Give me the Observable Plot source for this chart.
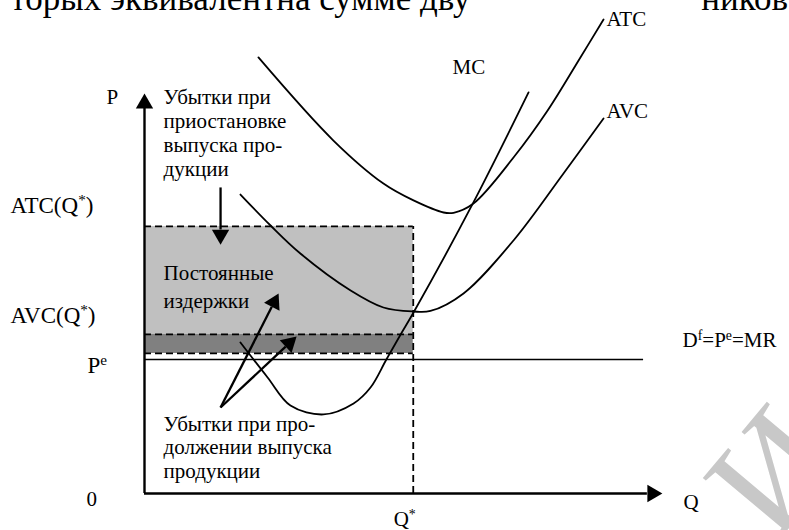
<!DOCTYPE html>
<html>
<head>
<meta charset="utf-8">
<script src="https://cdn.jsdelivr.net/npm/d3@7"></script>
<script src="https://cdn.jsdelivr.net/npm/@observablehq/plot@0.6"></script>
<style>
  html, body { margin: 0; padding: 0; background: #fff; }
  #chart svg { display: block; font-family: "Liberation Serif", "DejaVu Serif", serif; }
</style>
</head>
<body>
<div id="chart"></div>
<script>
// ---- Data (Q = quantity units, P = price units) ----
const qStar = 10;          // Q*
const pe = 10;             // market price P^e
const atcAtQ = 19.93;      // top of fixed-cost rectangle (ATC(Q*))
const avcAtQ = 11.87;      // AVC(Q*) level
const bandLow = 10.45;     // bottom of loss band
const demandEnd = 18.57;   // end of the D line

const atcCurve = [
  {q: 4.24, p: 32.54}, {q: 7.03, p: 26.34}, {q: 8.89, p: 23.13}, {q: 10.01, p: 21.87},
  {q: 11.13, p: 20.97}, {q: 11.5, p: 20.95}, {q: 12.24, p: 21.64}, {q: 13.73, p: 25.07},
  {q: 15.0, p: 28.58}, {q: 16.22, p: 32.54}, {q: 17.08, p: 35.37}
];
const avcCurve = [
  {q: 3.57, p: 22.31}, {q: 4.69, p: 20.0}, {q: 5.80, p: 17.91}, {q: 7.67, p: 15.15},
  {q: 8.89, p: 13.88}, {q: 10.01, p: 13.58}, {q: 10.64, p: 13.62}, {q: 11.87, p: 14.93},
  {q: 13.73, p: 18.88}, {q: 15.59, p: 23.88}, {q: 17.08, p: 27.99}
];
const mcCurve = [
  {q: 3.57, p: 11.27}, {q: 4.58, p: 8.66}, {q: 5.43, p: 6.57}, {q: 6.66, p: 5.90},
  {q: 7.78, p: 6.72}, {q: 8.41, p: 7.91}, {q: 9.0, p: 10.0}, {q: 9.53, p: 11.87},
  {q: 10.01, p: 13.51}, {q: 12.2, p: 21.57}, {q: 14.29, p: 29.93}
];

// annotation arrows: from -> tip
const arrows = [
  {q1: 2.83, p1: 22.84, q2: 2.83, p2: 18.51, len: 16},
  {q1: 2.83, p1: 6.42, q2: 4.99, p2: 14.93, len: 15},
  {q1: 2.83, p1: 6.42, q2: 5.66, p2: 11.72, len: 15}
];
const axisTips = {yTop: 29.85, xRight: 19.27};

// labels
const sideLabels = [
  {q: -4.99, p: 20.90, text: "ATC(Q^{*})"},
  {q: -4.99, p: 12.69, text: "AVC(Q^{*})"},
  {q: -2.12, p: 8.96, text: "P^{e}"}
];
const labels = [
  {q: -1.41, p: 29.03, text: "P"},
  {q: -2.16, p: -0.90, text: "0"},
  {q: 9.27, p: -2.46, text: "Q^{*}"},
  {q: 20.06, p: -1.19, text: "Q"},
  {q: 11.46, p: 31.34, text: "MC"},
  {q: 17.19, p: 34.85, text: "ATC"},
  {q: 17.19, p: 27.99, text: "AVC"},
  {q: 20.02, p: 10.90, text: "D^{f}=P^{e}=MR"}
];
const notes = [
  {q: 0.71, p: 23.73, lh: 1.14, text: "Убытки при\nприостановке\nвыпуска про-\nдукции"},
  {q: 0.71, p: 13.88, lh: 1.29, text: "Постоянные\nиздержки"},
  {q: 0.71, p: 1.19, lh: 1.12, text: "Убытки при про-\nдолжении выпуска\nпродукции"}
];
const topText = [
  {q: -4.99, p: 36.05, text: "торых эквивалентна сумме дву"},
  {q: 20.72, p: 36.05, text: "ников"}
];
const watermark = [{q: 23.4, p: 1.6, text: "И"}];

// ---- layout ----
const W = 789, H = 530, ML = 144, MB = 37;
const xMax = 24, yMax = 36.79;
const kx = (W - ML) / xMax, ky = (H - MB) / yMax;

function head(tq, tp, fq, fp, len) {
  const dx = (tq - fq) * kx, dy = -(tp - fp) * ky;
  const L = Math.hypot(dx, dy), ux = dx / L, uy = dy / L;
  const back = len * 2 / 3;
  return {
    q: tq - ux * back / kx, p: tp + uy * back / ky,
    bq: tq - ux * len / kx, bp: tp + uy * len / ky,
    rotate: Math.atan2(ux, -uy) * 180 / Math.PI,
    r: Math.sqrt(len * len * Math.sqrt(3) / 3 / Math.PI)
  };
}
const annHeads = arrows.map(a => ({...a, ...head(a.q2, a.p2, a.q1, a.p1, a.len)}));
const yHead = head(0, axisTips.yTop, 0, 0, 15);
const xHead = head(axisTips.xRight, 0, 0, 0, 15);
const axisHeads = [yHead, xHead];

const font = "Liberation Serif";
const plot = Plot.plot({
  width: W, height: H,
  marginLeft: ML, marginRight: 0, marginTop: 0, marginBottom: MB,
  x: {domain: [0, xMax], axis: null},
  y: {domain: [0, yMax], axis: null},
  style: {fontFamily: font, background: "white", overflow: "visible"},
  marks: [
    Plot.rect([{x1: 0, x2: qStar, y1: avcAtQ, y2: atcAtQ}], {x1: "x1", x2: "x2", y1: "y1", y2: "y2", fill: "#c0c0c0"}),
    Plot.rect([{x1: 0, x2: qStar, y1: bandLow, y2: avcAtQ}], {x1: "x1", x2: "x2", y1: "y1", y2: "y2", fill: "#808080"}),
    Plot.ruleY([atcAtQ, avcAtQ, bandLow], {x1: 0, x2: qStar, stroke: "black", strokeWidth: 1.8, strokeDasharray: "7,4"}),
    Plot.ruleX([qStar], {y1: 0, y2: atcAtQ, stroke: "black", strokeWidth: 1.8, strokeDasharray: "7,4"}),
    Plot.ruleY([pe], {x1: 0, x2: demandEnd, stroke: "black", strokeWidth: 1.5}),
    Plot.line(atcCurve, {x: "q", y: "p", curve: "catmull-rom", stroke: "black", strokeWidth: 1.8}),
    Plot.line(avcCurve, {x: "q", y: "p", curve: "catmull-rom", stroke: "black", strokeWidth: 1.8}),
    Plot.line(mcCurve, {x: "q", y: "p", curve: "catmull-rom", stroke: "black", strokeWidth: 1.8}),
    // axes
    Plot.ruleX([0], {y1: 0, y2: yHead.bp, stroke: "black", strokeWidth: 2.4}),
    Plot.ruleY([0], {x1: 0, x2: xHead.bq, stroke: "black", strokeWidth: 2.4}),
    Plot.dot(axisHeads, {x: "q", y: "p", rotate: "rotate", r: yHead.r, symbol: "triangle", fill: "black", stroke: "none"}),
    // annotation arrows
    Plot.link(annHeads, {x1: "q1", y1: "p1", x2: "bq", y2: "bp", stroke: "black", strokeWidth: 2.3}),
    Plot.dot(annHeads, {x: "q", y: "p", rotate: "rotate", r: annHeads[1].r, symbol: "triangle", fill: "black", stroke: "none"}),
    // texts
    Plot.text(watermark, {x: "q", y: "p", text: "text", fontSize: 150, rotate: -50, fill: "#c8c8c8", fontFamily: font, textAnchor: "middle", lineAnchor: "middle"}),
    Plot.text(topText, {x: "q", y: "p", text: "text", fontSize: 35, textAnchor: "start", lineAnchor: "bottom", fill: "black", fontFamily: font}),
    Plot.text(sideLabels, {x: "q", y: "p", text: "text", fontSize: 23, textAnchor: "start", lineAnchor: "bottom", fill: "black", fontFamily: font}),
    Plot.text(labels, {x: "q", y: "p", text: "text", fontSize: 21, textAnchor: "start", lineAnchor: "bottom", fill: "black", fontFamily: font}),
    ...notes.map(n => Plot.text([n], {x: "q", y: "p", text: "text", fontSize: 21, lineHeight: n.lh, textAnchor: "start", lineAnchor: "bottom", fill: "black", fontFamily: font}))
  ]
});

// superscripts
const NS = "http://www.w3.org/2000/svg";
plot.querySelectorAll("text").forEach(t => {
  if (t.children.length === 0 && t.textContent.includes("^{")) {
    const s = t.textContent;
    t.textContent = "";
    s.split(/(\^\{[^}]*\})/).forEach(part => {
      if (!part) return;
      const ts = document.createElementNS(NS, "tspan");
      if (part.startsWith("^{")) {
        ts.textContent = part.slice(2, -1);
        ts.setAttribute("baseline-shift", "super");
        ts.setAttribute("font-size", "0.66em");
      } else ts.textContent = part;
      t.appendChild(ts);
    });
  }
});
document.getElementById("chart").appendChild(plot);
</script>
</body>
</html>
